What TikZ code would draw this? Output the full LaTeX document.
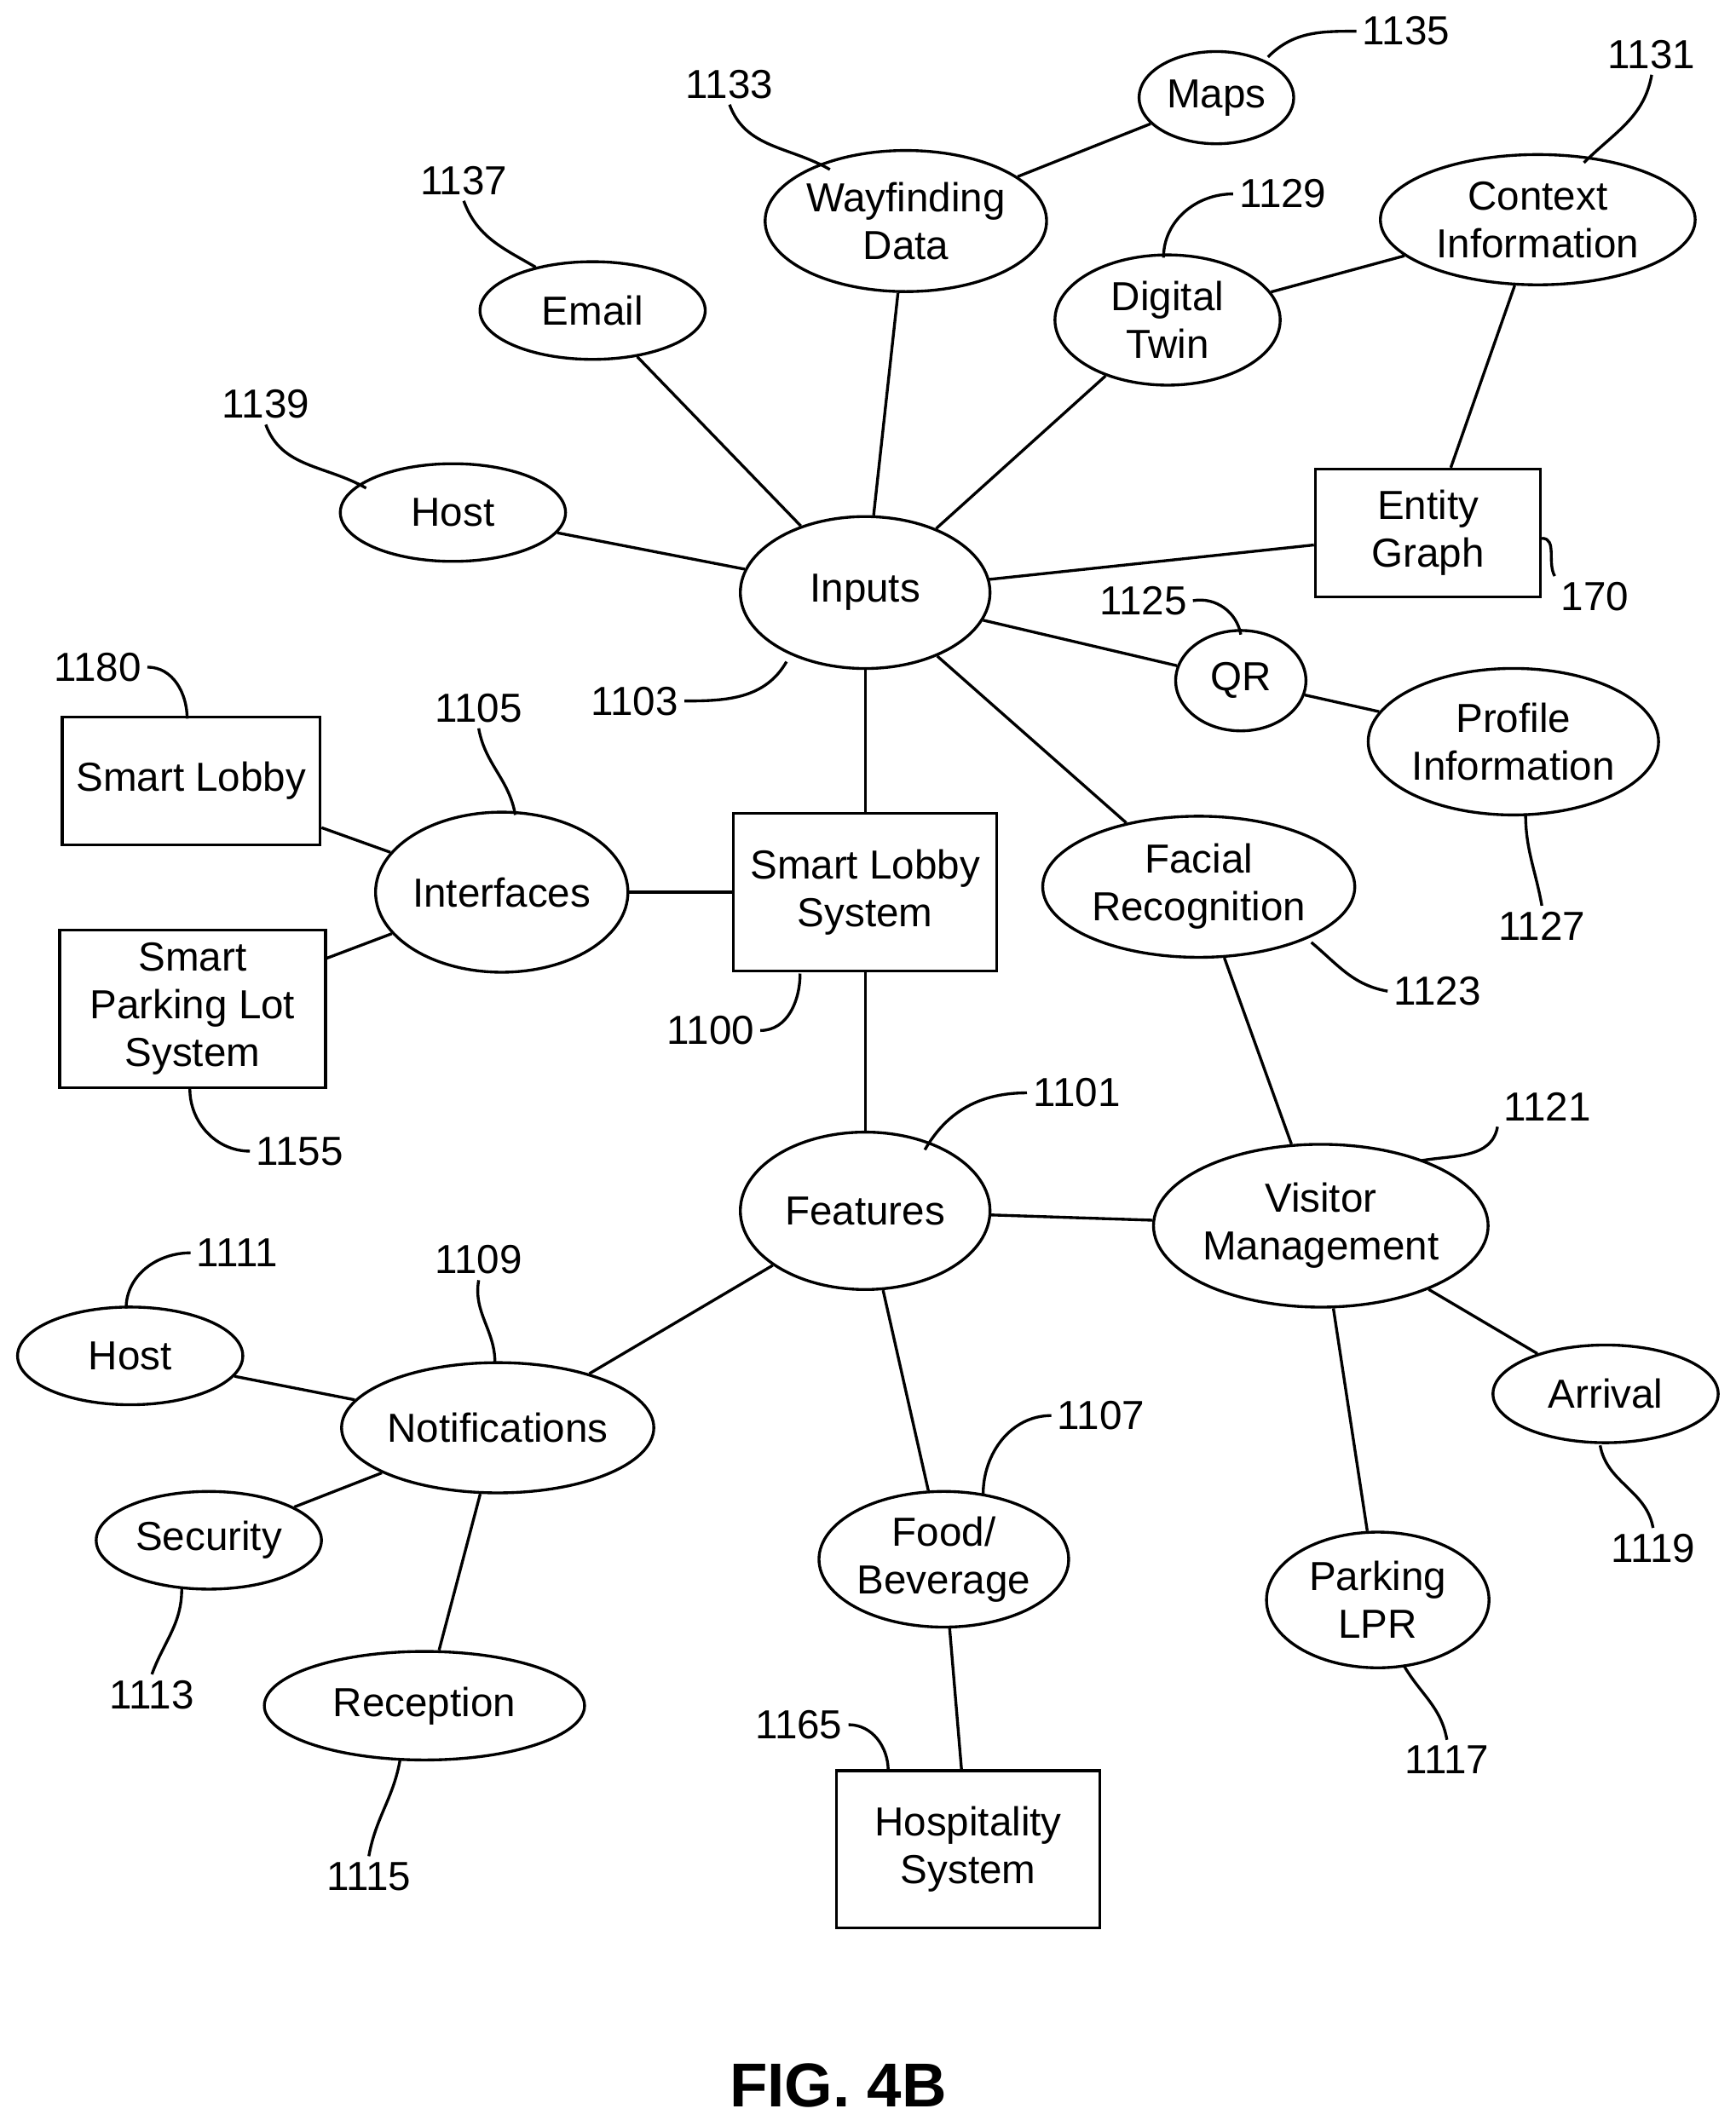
\documentclass[tikz,border=0pt]{standalone}
\usepackage{fontspec}
\setmainfont{Liberation Sans}
\usetikzlibrary{shapes.geometric}
\begin{document}
\begin{tikzpicture}[x=0.01cm,y=-0.01cm,line width=0.6pt,
	font=\fontsize{8.5}{10}\selectfont,
	ell/.style={draw, ellipse, inner sep=0pt, align=center},
	box/.style={draw, rectangle, inner sep=0pt, align=center},
	lbl/.style={inner sep=1pt}]
	\useasboundingbox (0,0) rectangle (1280,1568);
	%nodes
	\node[ell, minimum width=1.84cm, minimum height=1.12cm] (inp) at (638,437) {Inputs};
	\node[ell, minimum width=1.66cm, minimum height=0.72cm] (email) at (437,229) {Email};
	\node[ell, minimum width=1.88cm, minimum height=1.04cm] (way) at (668,163) {Wayfinding\\Data};
	\node[ell, minimum width=1.14cm, minimum height=0.68cm] (maps) at (897,72) {Maps};
	\node[ell, minimum width=1.66cm, minimum height=0.96cm] (twin) at (861,236) {Digital\\Twin};
	\node[ell, minimum width=2.32cm, minimum height=0.96cm] (ctx) at (1134,162) {Context\\Information};
	\node[box, minimum width=1.66cm, minimum height=0.94cm] (eg) at (1053,393) {Entity\\Graph};
	\node[ell, minimum width=1.66cm, minimum height=0.72cm] (host) at (334,378) {Host};
	\node[ell, minimum width=0.96cm, minimum height=0.74cm] (qr) at (915,502) {QR};
	\node[ell, minimum width=2.14cm, minimum height=1.08cm] (prof) at (1116,547) {Profile\\Information};
	\node[ell, minimum width=2.30cm, minimum height=1.04cm] (face) at (884,654) {Facial\\Recognition};
	\node[box, minimum width=1.94cm, minimum height=1.16cm] (sls) at (638,658) {Smart Lobby\\System};
	\node[ell, minimum width=1.86cm, minimum height=1.18cm] (intf) at (370,658) {Interfaces};
	\node[box, minimum width=1.90cm, minimum height=0.94cm] (sl) at (141,576) {Smart Lobby};
	\node[box, minimum width=1.96cm, minimum height=1.16cm] (spl) at (142,744) {Smart\\Parking Lot\\System};
	\node[ell, minimum width=1.84cm, minimum height=1.16cm] (feat) at (638,893) {Features};
	\node[ell, minimum width=2.22cm, minimum height=1.20cm] (vis) at (974,904) {Visitor\\Management};
	\node[ell, minimum width=1.66cm, minimum height=0.72cm] (arr) at (1184,1028) {Arrival};
	\node[ell, minimum width=1.64cm, minimum height=1.00cm] (lpr) at (1016,1180) {Parking\\LPR};
	\node[ell, minimum width=1.84cm, minimum height=1.00cm] (food) at (696,1150) {Food/\\Beverage};
	\node[box, minimum width=1.94cm, minimum height=1.16cm] (hosp) at (714,1364) {Hospitality\\System};
	\node[ell, minimum width=2.06cm, minimum height=0.96cm] (notif) at (367,1053) {Notifications};
	\node[ell, minimum width=1.66cm, minimum height=0.72cm] (hostb) at (96,1000) {Host};
	\node[ell, minimum width=1.66cm, minimum height=0.72cm] (sec) at (154,1136) {Security};
	\node[ell, minimum width=2.36cm, minimum height=0.80cm] (rec) at (313,1258) {Reception};
	%connectors
	\draw (inp) -- (email);
	\draw (inp) -- (way);
	\draw (way) -- (maps);
	\draw (inp) -- (twin);
	\draw (twin) -- (ctx);
	\draw (ctx) -- (eg);
	\draw (inp) -- (eg);
	\draw (inp) -- (host);
	\draw (inp) -- (qr);
	\draw (qr) -- (prof);
	\draw (inp) -- (face);
	\draw (inp) -- (sls);
	\draw (sls) -- (intf);
	\draw (intf) -- (sl);
	\draw (intf) -- (spl);
	\draw (sls) -- (feat);
	\draw (face) -- (vis);
	\draw (feat) -- (vis);
	\draw (vis) -- (arr);
	\draw (vis) -- (lpr);
	\draw (feat) -- (food);
	\draw (food) -- (hosp);
	\draw (feat) -- (notif);
	\draw (notif) -- (hostb);
	\draw (notif) -- (sec);
	\draw (notif) -- (rec);
	%reference numerals
	\node[lbl] (n1135) at (1037,23) {1135};
	\draw (n1135.west) to[out=180, in=45] (935,42);
	\node[lbl] (n1133) at (538,62) {1133};
	\draw (n1133.south) to[out=-70, in=150] (612,125);
	\node[lbl] (n1137) at (342,133) {1137};
	\draw (n1137.south) to[out=-70, in=150] (395,197);
	\node[lbl] (n1129) at (946,143) {1129};
	\draw (n1129.west) to[out=180, in=90] (858,190);
	\node[lbl] (n1131) at (1218,40) {1131};
	\draw (n1131.south) to[out=-100, in=45] (1168,120);
	\node[lbl] (n170) at (1176,440) {170};
	\draw (n170.north west) to[out=120, in=0] (1137,397);
	\node[lbl] (n1139) at (196,298) {1139};
	\draw (n1139.south) to[out=-70, in=150] (270,360);
	\node[lbl] (n1125) at (843,443) {1125};
	\draw (n1125.east) to[out=10, in=100] (915,468);
	\node[lbl] (n1103) at (468,517) {1103};
	\draw (n1103.east) to[out=0, in=-120] (580,488);
	\node[lbl] (n1180) at (72,492) {1180};
	\draw (n1180.east) to[out=0, in=90] (138,530);
	\node[lbl] (n1105) at (353,522) {1105};
	\draw (n1105.south) to[out=-80, in=100] (380,601);
	\node[lbl] (n1127) at (1137,683) {1127};
	\draw (n1127.north) to[out=100, in=-90] (1125,600);
	\node[lbl] (n1123) at (1060,731) {1123};
	\draw (n1123.west) to[out=170, in=-40] (967,695);
	\node[lbl] (n1100) at (524,760) {1100};
	\draw (n1100.east) to[out=0, in=-90] (590,718);
	\node[lbl] (n1155) at (221,849) {1155};
	\draw (n1155.west) to[out=180, in=-90] (140,803);
	\node[lbl] (n1101) at (794,806) {1101};
	\draw (n1101.west) to[out=180, in=60] (682,848);
	\node[lbl] (n1121) at (1141,816) {1121};
	\draw (n1121.south west) to[out=-100, in=10] (1048,856);
	\node[lbl] (n1111) at (175,924) {1111};
	\draw (n1111.west) to[out=180, in=90] (93,965);
	\node[lbl] (n1109) at (353,929) {1109};
	\draw (n1109.south) to[out=-100, in=90] (365,1005);
	\node[lbl] (n1107) at (812,1044) {1107};
	\draw (n1107.west) to[out=180, in=90] (725,1102);
	\node[lbl] (n1119) at (1219,1142) {1119};
	\draw (n1119.north) to[out=100, in=-80] (1180,1066);
	\node[lbl] (n1113) at (112,1250) {1113};
	\draw (n1113.north) to[out=70, in=-90] (134,1172);
	\node[lbl] (n1117) at (1067,1298) {1117};
	\draw (n1117.north) to[out=100, in=-60] (1035,1228);
	\node[lbl] (n1165) at (589,1272) {1165};
	\draw (n1165.east) to[out=0, in=90] (655,1306);
	\node[lbl] (n1115) at (272,1384) {1115};
	\draw (n1115.north) to[out=80, in=-100] (295,1298);
	%caption
	\node[font=\fontsize{13}{15}\selectfont\bfseries] (cap) at (618,1538) {FIG. 4B};
\end{tikzpicture}
\end{document}
